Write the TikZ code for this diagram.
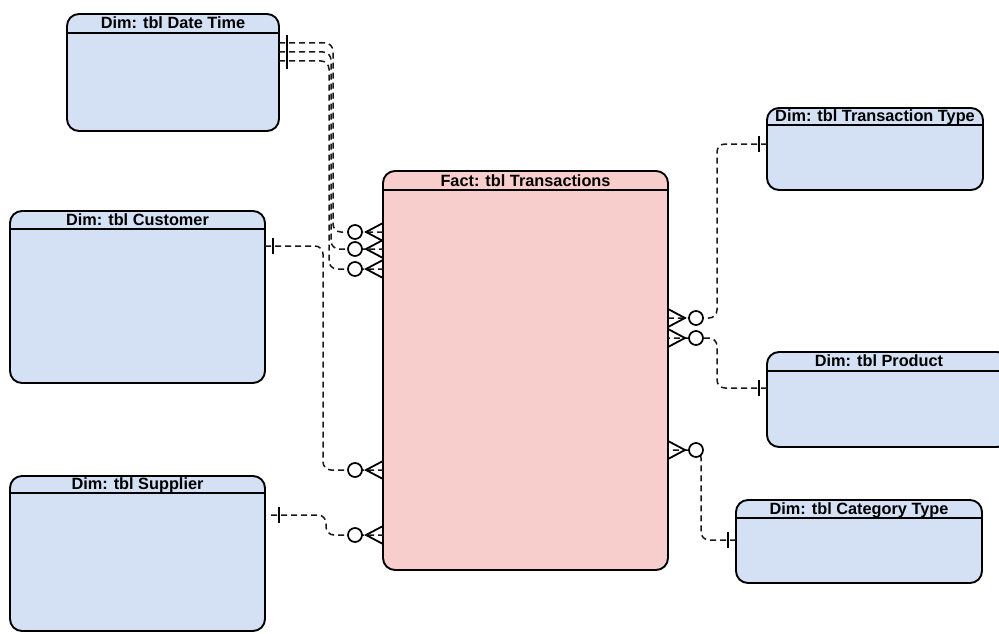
\documentclass[tikz,border=0pt]{standalone}
\usepackage{fontspec}
\setmainfont{Liberation Sans}
\definecolor{dimblue}{HTML}{D4E1F5}
\definecolor{factpink}{HTML}{F8CECC}
\tikzset{
  tablebox/.style={draw=black, line width=1.9pt, rounded corners=12pt, inner sep=0pt, outer sep=0pt},
  dimbox/.style={tablebox, fill=dimblue},
  factbox/.style={tablebox, fill=factpink},
  hdrline/.style={draw=black, line width=1.6pt},
  ttl/.style={font=\bfseries\fontsize{16.3}{18}\selectfont, inner sep=0pt, anchor=base},
  conn/.style={draw=black!90, line width=1.5pt, dash pattern=on 6pt off 4pt, rounded corners=8pt},
  onebar/.pic={\draw[solid, line width=1.8pt, line cap=butt] (8,-8) -- (8,8);},
  zmany/.pic={\draw[solid, line width=1.8pt, line join=miter] (0,-9) -- (-17,0) -- (0,9);
              \draw[solid, line width=1.7pt, fill=white] (-28,0) circle[radius=7pt];}
}
\begin{document}
\begin{tikzpicture}[x=1pt,y=-1pt]
\useasboundingbox (0,0) rectangle (999,634);

% tables
\node[dimbox, minimum width=212pt, minimum height=117pt] (dt) at (173,72.5) {};
\node[dimbox, minimum width=255pt, minimum height=172pt] (cu) at (137.5,297) {};
\node[dimbox, minimum width=255pt, minimum height=155pt] (su) at (137.5,553.5) {};
\node[factbox, minimum width=285pt, minimum height=399pt] (fa) at (525.5,370.5) {};
\node[dimbox, minimum width=216pt, minimum height=82pt] (tt) at (875,149) {};
\node[dimbox, minimum width=242pt, minimum height=95pt] (pr) at (888,399.5) {};
\node[dimbox, minimum width=246pt, minimum height=83pt] (ct) at (859,541.5) {};

% header lines
\foreach \n/\h in {dt/19, cu/18, su/17, fa/19, tt/17, pr/19, ct/18}{
  \draw[hdrline] ([yshift=-\h pt]\n.north west) -- ([yshift=-\h pt]\n.north east);
}

% titles
\node[ttl] (dtT) at ([yshift=-14.5pt]dt.north) {Dim: tbl Date Time};
\node[ttl] (cuT) at ([yshift=-14pt]cu.north) {Dim: tbl Customer};
\node[ttl] (suT) at ([yshift=-13.5pt]su.north) {Dim: tbl Supplier};
\node[ttl] (faT) at ([yshift=-15pt]fa.north) {Fact: tbl Transactions};
\node[ttl] (ttT) at ([yshift=-13.5pt]tt.north) {Dim: tbl Transaction Type};
\node[ttl] (prT) at ([xshift=-9pt,yshift=-14.5pt]pr.north) {Dim: tbl Product};
\node[ttl] (ctT) at ([yshift=-14pt]ct.north) {Dim: tbl Category Type};

% connector end points
\coordinate (dtA) at ([yshift=-29pt]dt.north east);
\coordinate (dtB) at ([yshift=-38pt]dt.north east);
\coordinate (dtC) at ([yshift=-47pt]dt.north east);
\coordinate (cuA) at ([yshift=-35pt]cu.north east);
\coordinate (suA) at ([xshift=6pt,yshift=-39pt]su.north east);
\coordinate (ttA) at ([yshift=-36pt]tt.north west);
\coordinate (prA) at ([yshift=-36pt]pr.north west);
\coordinate (ctA) at ([yshift=-40pt]ct.north west);
\coordinate (faA) at ([yshift=-61pt]fa.north west);
\coordinate (faB) at ([yshift=-78pt]fa.north west);
\coordinate (faC) at ([yshift=-98pt]fa.north west);
\coordinate (faD) at ([yshift=-299pt]fa.north west);
\coordinate (faE) at ([yshift=-364pt]fa.north west);
\coordinate (faF) at ([yshift=-147pt]fa.north east);
\coordinate (faG) at ([yshift=-167pt]fa.north east);
\coordinate (faH) at ([yshift=-279pt]fa.north east);

% connectors
\draw[conn] (dtA) -- ++(54,0) |- (faA);
\draw[conn] (dtB) -- ++(52,0) |- (faB);
\draw[conn] (dtC) -- ++(50,0) |- (faC);
\draw[conn] (cuA) -- ++(58,0) |- (faD);
\draw[conn] (suA) -- ++(55,0) |- (faE);
\draw[conn] (ttA) -- ++(-50,0) |- (faF);
\draw[conn] (prA) -- ++(-50,0) |- (faG);
\draw[conn] (ctA) -- ++(-35,0) |- (faH);

% "one" ends
\pic at (dtA) {onebar};
\pic at (dtB) {onebar};
\pic at (dtC) {onebar};
\pic at (cuA) {onebar};
\pic at (suA) {onebar};
\pic[rotate=180] at (ttA) {onebar};
\pic[rotate=180] at (prA) {onebar};
\pic[rotate=180] at (ctA) {onebar};

% "zero or many" ends
\pic at (faA) {zmany};
\pic at (faB) {zmany};
\pic at (faC) {zmany};
\pic at (faD) {zmany};
\pic at (faE) {zmany};
\pic[rotate=180] at (faF) {zmany};
\pic[rotate=180] at (faG) {zmany};
\pic[rotate=180] at (faH) {zmany};
\end{tikzpicture}
\end{document}
